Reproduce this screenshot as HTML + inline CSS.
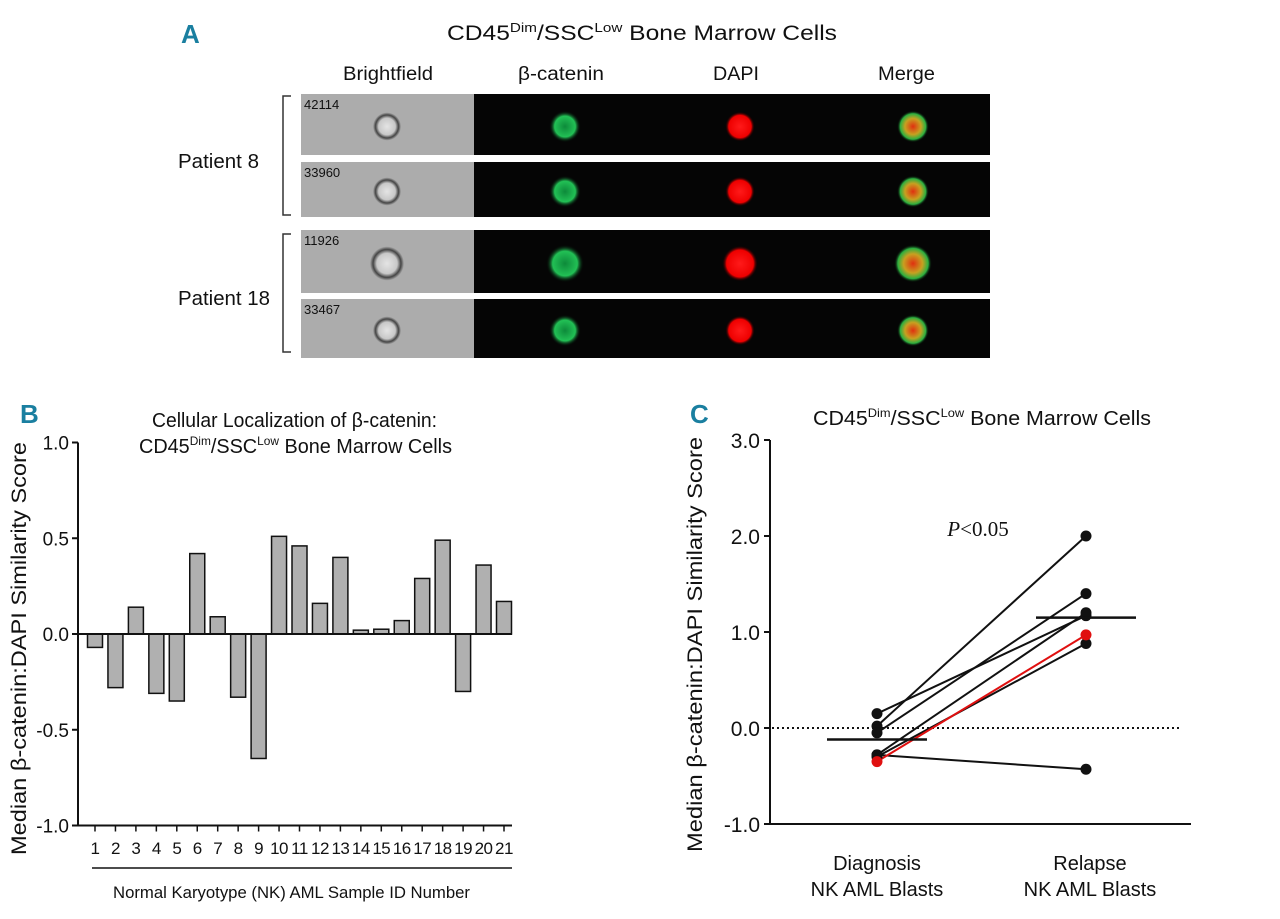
<!DOCTYPE html>
<html><head><meta charset="utf-8"><style>
body{margin:0;background:#fff;width:1280px;height:914px;overflow:hidden;font-family:"Liberation Sans",sans-serif}
svg text{font-family:"Liberation Sans",sans-serif;fill:#111}
</style></head><body>
<svg id="fig" width="1280" height="914" viewBox="0 0 1280 914">
<defs>
<radialGradient id="gBF"><stop offset="0" stop-color="#e4e4e4"/><stop offset="0.6" stop-color="#c8c8c8"/><stop offset="0.82" stop-color="#444"/><stop offset="1" stop-color="#aaa"/></radialGradient>
<radialGradient id="gG"><stop offset="0" stop-color="#0d8a3a"/><stop offset="0.65" stop-color="#22c055"/><stop offset="1" stop-color="#000" stop-opacity="0"/></radialGradient>
<radialGradient id="gR"><stop offset="0" stop-color="#ff1a1a"/><stop offset="0.75" stop-color="#e00"/><stop offset="1" stop-color="#000" stop-opacity="0"/></radialGradient>
<radialGradient id="gM"><stop offset="0" stop-color="#e03010"/><stop offset="0.5" stop-color="#c8a020"/><stop offset="0.8" stop-color="#2cb040"/><stop offset="1" stop-color="#000" stop-opacity="0"/></radialGradient>
</defs>

<!-- Panel A -->
<text x="181" y="43" font-size="26" font-weight="bold" style="fill:#1a7fa0">A</text>
<text x="447" y="40" font-size="21" textLength="390" lengthAdjust="spacingAndGlyphs">CD45<tspan font-size="13" dy="-8">Dim</tspan><tspan dy="8">/SSC</tspan><tspan font-size="13" dy="-8">Low</tspan><tspan dy="8">  Bone Marrow Cells</tspan></text>
<text x="343" y="80" font-size="19" textLength="90" lengthAdjust="spacingAndGlyphs">Brightfield</text>
<text x="518" y="80" font-size="19" textLength="86" lengthAdjust="spacingAndGlyphs">β-catenin</text>
<text x="713" y="80" font-size="19" textLength="46" lengthAdjust="spacingAndGlyphs">DAPI</text>
<text x="878" y="80" font-size="19" textLength="57" lengthAdjust="spacingAndGlyphs">Merge</text>
<g id="rows"></g>
<text x="178" y="168" font-size="20" textLength="81" lengthAdjust="spacingAndGlyphs">Patient 8</text>
<text x="178" y="305" font-size="20" textLength="92" lengthAdjust="spacingAndGlyphs">Patient 18</text>
<path d="M291,96 H283 V215 H291" fill="none" stroke="#333" stroke-width="1.5"/>
<path d="M291,234 H283 V352 H291" fill="none" stroke="#333" stroke-width="1.5"/>

<!-- Panel B -->
<text x="20" y="423" font-size="26" font-weight="bold" style="fill:#1a7fa0">B</text>
<text x="152" y="427" font-size="20" textLength="285" lengthAdjust="spacingAndGlyphs">Cellular Localization of β-catenin:</text>
<text x="139" y="453" font-size="20" textLength="313" lengthAdjust="spacingAndGlyphs">CD45<tspan font-size="12" dy="-8">Dim</tspan><tspan dy="8">/SSC</tspan><tspan font-size="12" dy="-8">Low</tspan><tspan dy="8"> Bone Marrow Cells</tspan></text>
<g id="chartB"></g>
<text transform="translate(26,855) rotate(-90)" font-size="21" textLength="413" lengthAdjust="spacingAndGlyphs">Median β-catenin:DAPI Similarity Score</text>
<line x1="92" y1="868" x2="512" y2="868" stroke="#111" stroke-width="1.5"/>
<text x="113" y="898" font-size="17" textLength="357" lengthAdjust="spacingAndGlyphs">Normal Karyotype (NK) AML Sample ID Number</text>

<!-- Panel C -->
<text x="690" y="423" font-size="26" font-weight="bold" style="fill:#1a7fa0">C</text>
<text x="813" y="425" font-size="20" textLength="338" lengthAdjust="spacingAndGlyphs">CD45<tspan font-size="12" dy="-8">Dim</tspan><tspan dy="8">/SSC</tspan><tspan font-size="12" dy="-8">Low</tspan><tspan dy="8">  Bone Marrow Cells</tspan></text>
<g id="chartC"></g>
<text transform="translate(702,852) rotate(-90)" font-size="21" textLength="415" lengthAdjust="spacingAndGlyphs">Median β-catenin:DAPI Similarity Score</text>
<text x="978" y="536" font-size="21" text-anchor="middle" style="font-family:'Liberation Serif',serif"><tspan font-style="italic">P</tspan>&lt;0.05</text>
<text x="877" y="870" font-size="20" text-anchor="middle">Diagnosis</text>
<text x="877" y="896" font-size="20" text-anchor="middle">NK AML Blasts</text>
<text x="1090" y="870" font-size="20" text-anchor="middle">Relapse</text>
<text x="1090" y="896" font-size="20" text-anchor="middle">NK AML Blasts</text>
</svg>
<script>
const NS='http://www.w3.org/2000/svg';
function mk(parent,tag,attrs){const e=document.createElementNS(NS,tag);for(const k in attrs)e.setAttribute(k,attrs[k]);parent.appendChild(e);return e;}

// Panel A images
const rowIds=['42114','33960','11926','33467'];
const rowTops=[94,162,230,299];
const rowHeights=[61,55,63,59];
const rowsG=document.getElementById('rows');
rowIds.forEach((id,i)=>{
  const y=rowTops[i],h=rowHeights[i];
  const g=rowsG;
  let e=mk(g,'rect',{x:301,y:y,width:173,height:h,fill:'#acacac'});
  
  
  e=mk(g,'rect',{x:474,y:y,width:516,height:h,fill:'#050505'});
  
  
  const r=i==2?17:14;
  const cy=y+h/2+2;
  e=mk(g,'circle',{cx:387,cy:cy,r:r,fill:'url(#gBF)'});
  
  
  e=mk(g,'circle',{cx:565,cy:cy,r:r+2,fill:'url(#gG)'});
  
  
  e=mk(g,'circle',{cx:740,cy:cy,r:r+1,fill:'url(#gR)'});
  
  
  e=mk(g,'circle',{cx:913,cy:cy,r:r+2,fill:'url(#gM)'});
  
  
  e=mk(g,'text',{x:304,y:y+15,'font-size':13});
  e.textContent=id;
  
  
});

// Panel B data
const bCategories=['1','2','3','4','5','6','7','8','9','10','11','12','13','14','15','16','17','18','19','20','21'];
const bValues=[-0.07,-0.28,0.14,-0.31,-0.35,0.42,0.09,-0.33,-0.65,0.51,0.46,0.16,0.40,0.02,0.025,0.07,0.29,0.49,-0.30,0.36,0.17];
const bTicks=[1.0,0.5,0.0,-0.5,-1.0];
const bTickLabels=['1.0','0.5','0.0','-0.5','-1.0'];
(function(){
  const g=document.getElementById('chartB');
  const y=v=>634-v*191.5;
  const x=i=>95+i*20.45;
  let e=mk(g,'line',{x1:78,y1:y(1),x2:78,y2:y(-1),stroke:'#111','stroke-width':2});
  
  
  e=mk(g,'line',{x1:72,y1:y(-1),x2:512,y2:y(-1),stroke:'#111','stroke-width':2});
  
  
  bTicks.forEach((t,i)=>{
    let l=mk(g,'line',{x1:72,y1:y(t),x2:78,y2:y(t),stroke:'#111','stroke-width':2});
    
    
    let tx=mk(g,'text',{x:69,y:y(t)+7,'font-size':19,'text-anchor':'end'});
    tx.textContent=bTickLabels[i];
    
    
  });
  bValues.forEach((v,i)=>{
    const top=Math.min(y(v),y(0)),h=Math.abs(y(v)-y(0));
    let r=mk(g,'rect',{x:x(i)-7.5,y:top,width:15,height:h,fill:'#b0b0b0',stroke:'#111','stroke-width':1.5});
    
    
    let l=mk(g,'line',{x1:x(i),y1:y(-1),x2:x(i),y2:y(-1)+6,stroke:'#111','stroke-width':1.5});
    
    
    let tx=mk(g,'text',{x:x(i),y:854,'font-size':17,'text-anchor':'middle','letter-spacing':'-0.5'});
    tx.textContent=bCategories[i];
    
    
  });
  e=mk(g,'line',{x1:78,y1:y(0),x2:512,y2:y(0),stroke:'#111','stroke-width':2});
  
  
})();

// Panel C data
const cGroups=['Diagnosis','Relapse'];
const cDiagnosis=[0.15,0.02,-0.05,-0.28,-0.30,-0.28];
const cRelapse=[1.17,2.0,1.4,1.2,0.88,-0.43];
const cRedDiagnosis=[-0.35];
const cRedRelapse=[0.97];
const cMeans=[-0.12,1.15];
const cTicks=[3,2,1,0,-1];
const cTickLabels=['3.0','2.0','1.0','0.0','-1.0'];
(function(){
  const g=document.getElementById('chartC');
  const y=v=>728-v*96;
  const gx=[877,1086];
  let e=mk(g,'line',{x1:770,y1:y(3),x2:770,y2:y(-1),stroke:'#111','stroke-width':2});
  
  
  e=mk(g,'line',{x1:764,y1:y(-1),x2:1191,y2:y(-1),stroke:'#111','stroke-width':2});
  
  
  cTicks.forEach((t,i)=>{
    let l=mk(g,'line',{x1:764,y1:y(t),x2:770,y2:y(t),stroke:'#111','stroke-width':2});
    
    
    let tx=mk(g,'text',{x:760,y:y(t)+8,'font-size':21,'text-anchor':'end'});
    tx.textContent=cTickLabels[i];
    
    
  });
  e=mk(g,'line',{x1:772,y1:y(0),x2:1182,y2:y(0),stroke:'#111','stroke-width':2,'stroke-dasharray':'2,3'});
  
  
  cDiagnosis.forEach((d,i)=>{
    let l=mk(g,'line',{x1:gx[0],y1:y(d),x2:gx[1],y2:y(cRelapse[i]),stroke:'#111','stroke-width':2});
    
    
  });
  cRedDiagnosis.forEach((d,i)=>{
    let l=mk(g,'line',{x1:gx[0],y1:y(d),x2:gx[1],y2:y(cRedRelapse[i]),stroke:'#e01010','stroke-width':2});
    
    
  });
  cDiagnosis.forEach(d=>{
    let c=mk(g,'circle',{cx:gx[0],cy:y(d),r:5.5,fill:'#111'});
    
    
  });
  cRelapse.forEach(d=>{
    let c=mk(g,'circle',{cx:gx[1],cy:y(d),r:5.5,fill:'#111'});
    
    
  });
  cRedDiagnosis.forEach(d=>{
    let c=mk(g,'circle',{cx:gx[0],cy:y(d),r:5.5,fill:'#e01010'});
    
    
  });
  cRedRelapse.forEach(d=>{
    let c=mk(g,'circle',{cx:gx[1],cy:y(d),r:5.5,fill:'#e01010'});
    
    
  });
  cMeans.forEach((m,i)=>{
    let l=mk(g,'line',{x1:gx[i]-50,y1:y(m),x2:gx[i]+50,y2:y(m),stroke:'#111','stroke-width':2.5});
    
    
  });
})();
</script>
</body></html>
